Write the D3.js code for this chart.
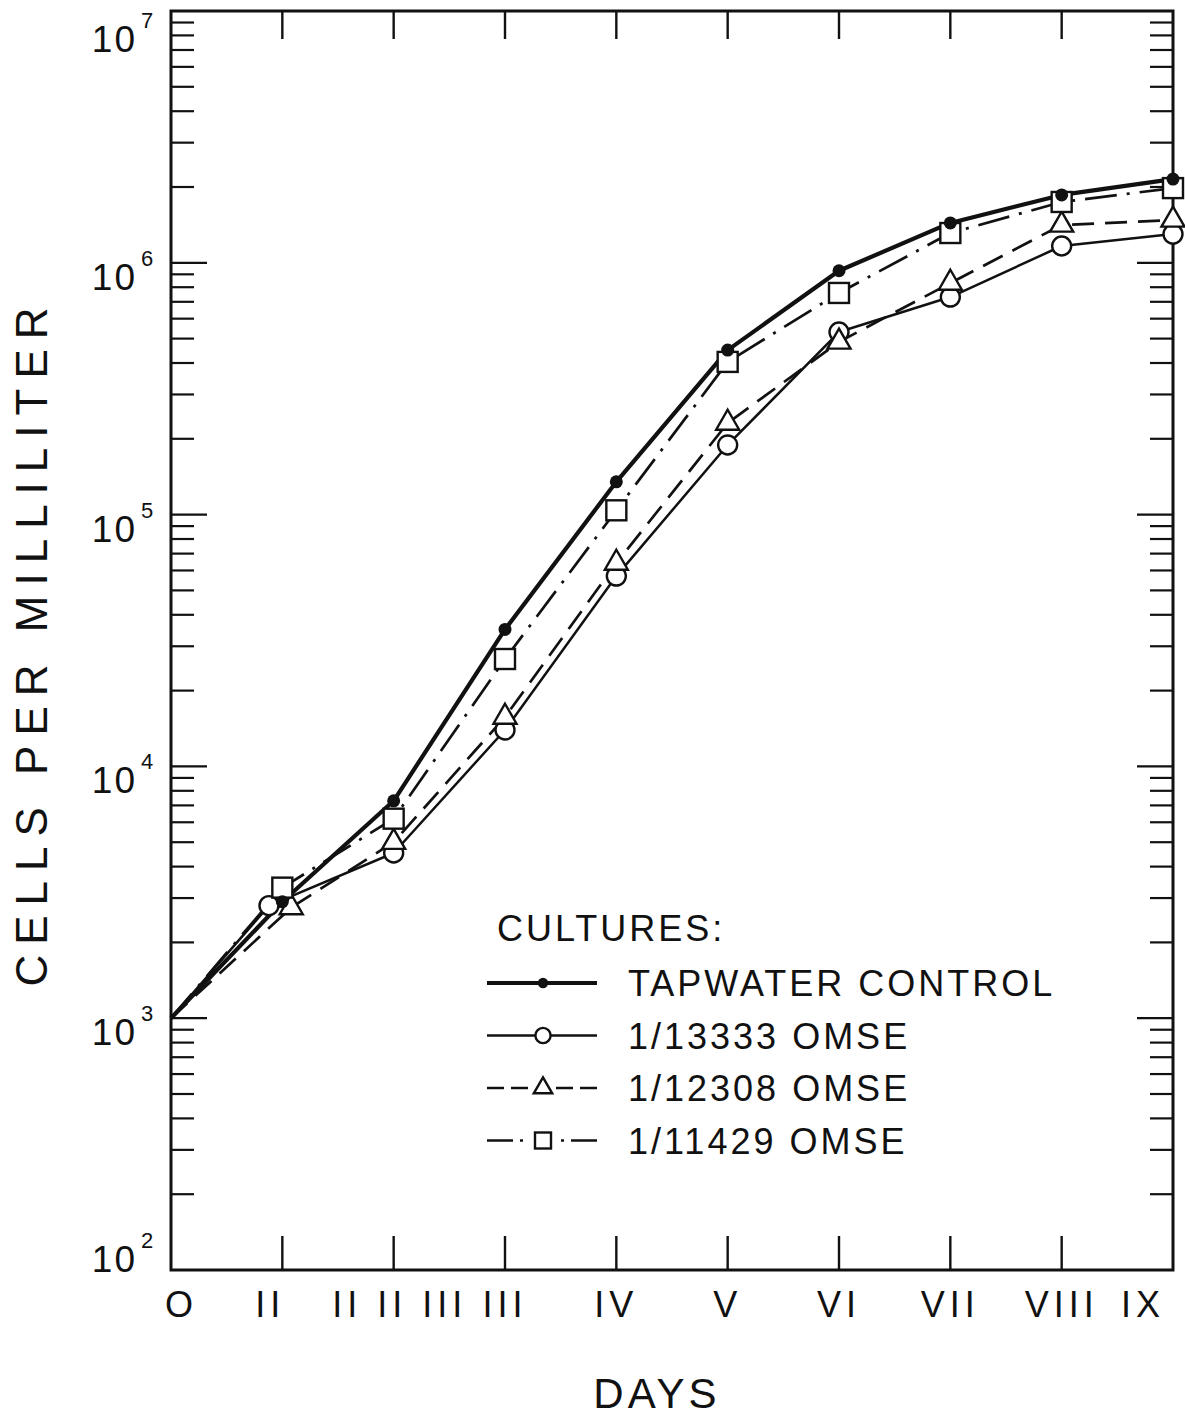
<!DOCTYPE html>
<html><head><meta charset="utf-8">
<script src="https://cdn.jsdelivr.net/npm/d3@7"></script>
<style>body{margin:0;background:#fff}svg{display:block}</style>
</head><body><svg id="c" width="1185" height="1422"></svg>
<script>
// ---- data ----
const days = [0,1,2,3,4,5,6,7,8,9];
const dayLabels = ["O","II","II II  III","III","IV","V","VI","VII","VIII","IX"];
const tapwaterDays = [0,1,2,3,4,5,6,7,8,9];
const tapwater = [1000,2900,7300,35000,135000,450000,930000,1440000,1860000,2150000];
const omse13333Days = [0,0.88,2,3,4,5,6,7,8,9];
const omse13333 = [1000,2800,4530,13950,57000,189000,531000,731000,1166000,1300000];
const omse12308Days = [0,1.08,2,3,4,5,6,7,8,9];
const omse12308 = [1000,2750,5000,15700,64200,231000,485000,831000,1413000,1479000];
const omse11429Days = [0,1,2,3,4,5,6,7,8,9];
const omse11429 = [1000,3300,6200,26700,104000,404000,759000,1313000,1744000,1980000];
const yTickExps = [2,3,4,5,6,7];
const legendTitle = "CULTURES:";
const legendLabels = ["TAPWATER CONTROL","1/13333 OMSE","1/12308 OMSE","1/11429 OMSE"];
const xTitle = "DAYS";
const yTitle = "CELLS PER MILLILITER";

// ---- layout ----
const svg = d3.select("#c");
const L = 171, R = 1173, T = 11, B = 1270;
const x = d3.scaleLinear().domain([0,9]).range([L,R]);
const y = d3.scaleLog().domain([1e2,1e7]).range([B,T]);
const FONT = "'Liberation Sans', Arial, sans-serif";
const ink = "#111";

// frame
svg.append("rect").attr("x",L).attr("y",T).attr("width",R-L).attr("height",B-T)
  .attr("fill","none").attr("stroke",ink).attr("stroke-width",3);

// y ticks (both sides, inward)
const yTicks = [];
for (let k=2;k<7;k++) for (let m=1;m<10;m++) yTicks.push(m*Math.pow(10,k));
yTicks.forEach(v=>{
  const major = Math.abs(Math.log10(v) - Math.round(Math.log10(v))) < 1e-9;
  if (v===1e2) return;
  const len = major ? 36 : 23;
  svg.append("line").attr("x1",L).attr("x2",L+len).attr("y1",y(v)).attr("y2",y(v))
    .attr("stroke",ink).attr("stroke-width",2.2);
  svg.append("line").attr("x1",R).attr("x2",R-len).attr("y1",y(v)).attr("y2",y(v))
    .attr("stroke",ink).attr("stroke-width",2.2);
});

// x ticks (top and bottom, inward)
days.filter(d=>d>0 && d<9).forEach(d=>{
  svg.append("line").attr("x1",x(d)).attr("x2",x(d)).attr("y1",B).attr("y2",B-34)
    .attr("stroke",ink).attr("stroke-width",2.4);
  svg.append("line").attr("x1",x(d)).attr("x2",x(d)).attr("y1",T).attr("y2",T+28)
    .attr("stroke",ink).attr("stroke-width",2.4);
});

// y tick labels 10^n
yTickExps.forEach(e=>{
  const v = Math.pow(10,e);
  const off = e===7 ? 14 : (e===2 ? -25 : 0);
  const ty = y(v) + off;
  svg.append("text").attr("x",137).attr("y",ty+27).attr("text-anchor","end")
    .attr("font-family",FONT).attr("font-size",37).attr("letter-spacing",2).attr("fill",ink).text("10");
  svg.append("text").attr("x",141).attr("y",ty+3).attr("text-anchor","start")
    .attr("font-family",FONT).attr("font-size",22).attr("fill",ink).text(String(e));
});

// x tick labels
days.forEach((d,i)=>{
  let anchor="middle", px=x(d);
  if (i===0){anchor="start"; px=x(d)-6;}
  if (i===days.length-1){anchor="end"; px=x(d)-8;}
  if (i===1) px = x(d)-12;
  if (i===2) px = x(d)+6;
  svg.append("text").attr("x",px).attr("y",1317).attr("text-anchor",anchor)
    .attr("font-family",FONT).attr("font-size",36).attr("letter-spacing",5)
    .attr("fill",ink).text(dayLabels[i]);
});

// axis titles
svg.append("text").attr("x",657).attr("y",1408).attr("text-anchor","middle")
  .attr("font-family",FONT).attr("font-size",42).attr("letter-spacing",4).attr("fill",ink).text(xTitle);
svg.append("text").attr("transform","translate(47,642) rotate(-90)").attr("text-anchor","middle")
  .attr("font-family",FONT).attr("font-size",44).attr("letter-spacing",10).attr("fill",ink).text(yTitle);

// series
const series = [
  {name:legendLabels[0], days:tapwaterDays, vals:tapwater, w:4.2, dash:null, marker:"dot"},
  {name:legendLabels[1], days:omse13333Days, vals:omse13333, w:2.5, dash:null, marker:"circle"},
  {name:legendLabels[2], days:omse12308Days, vals:omse12308, w:2.7, dash:"22,11", marker:"triangle",
    legDash:"17,7,17,20"},
  {name:legendLabels[3], days:omse11429Days, vals:omse11429, w:2.7, dash:"32,10,3,10", marker:"square",
    legDash:"26,7,3,20"}
];
const line = d3.line().x(p=>x(p[0])).y(p=>y(p[1])).curve(d3.curveLinear);

series.forEach(s=>{
  const pts = s.days.map((d,i)=>[d,s.vals[i]]);
  svg.append("path").attr("d",line(pts)).attr("fill","none").attr("stroke",ink)
    .attr("stroke-width",s.w).attr("stroke-dasharray",s.dash).attr("stroke-linejoin","round");
});

function drawMarker(g, type, cx, cy, scale){
  scale = scale||1;
  if (type==="dot"){
    g.append("circle").attr("cx",cx).attr("cy",cy).attr("r",6.5*scale).attr("fill",ink);
  } else if (type==="circle"){
    g.append("circle").attr("cx",cx).attr("cy",cy).attr("r",9.5*scale).attr("fill","#fff")
      .attr("stroke",ink).attr("stroke-width",2.4);
  } else if (type==="triangle"){
    g.append("path").attr("transform",`translate(${cx},${cy})`)
      .attr("d",d3.symbol(d3.symbolTriangle, 230*scale*scale)()).attr("fill","#fff")
      .attr("stroke",ink).attr("stroke-width",2.4);
  } else if (type==="square"){
    const h=10*scale;
    g.append("rect").attr("x",cx-h).attr("y",cy-h).attr("width",2*h).attr("height",2*h)
      .attr("fill","#fff").attr("stroke",ink).attr("stroke-width",2.4);
  }
}
const mk = svg.append("g");
["circle","triangle","square","dot"].forEach(t=>{
  series.filter(s=>s.marker===t).forEach(s=>{
    s.days.forEach((d,i)=>{ if (d>0) drawMarker(mk, t, x(d), y(s.vals[i])); });
  });
});

// legend
svg.append("text").attr("x",497).attr("y",941).attr("font-family",FONT).attr("font-size",36)
  .attr("letter-spacing",3).attr("fill",ink).text(legendTitle);
series.forEach((s,i)=>{
  const ly = 983 + i*52.5;
  // left and right halves drawn outward from the ends so dash patterns are symmetric
  [[487,541],[597,545]].forEach(([a,b])=>{
    svg.append("line").attr("x1",a).attr("x2",b).attr("y1",ly).attr("y2",ly)
      .attr("stroke",ink).attr("stroke-width",s.w).attr("stroke-dasharray",s.legDash||null);
  });
  drawMarker(svg, s.marker, 543, ly, 0.8);
  svg.append("text").attr("x",628).attr("y",ly+13).attr("font-family",FONT).attr("font-size",36)
    .attr("letter-spacing",3).attr("fill",ink).text(s.name);
});
</script></body></html>
